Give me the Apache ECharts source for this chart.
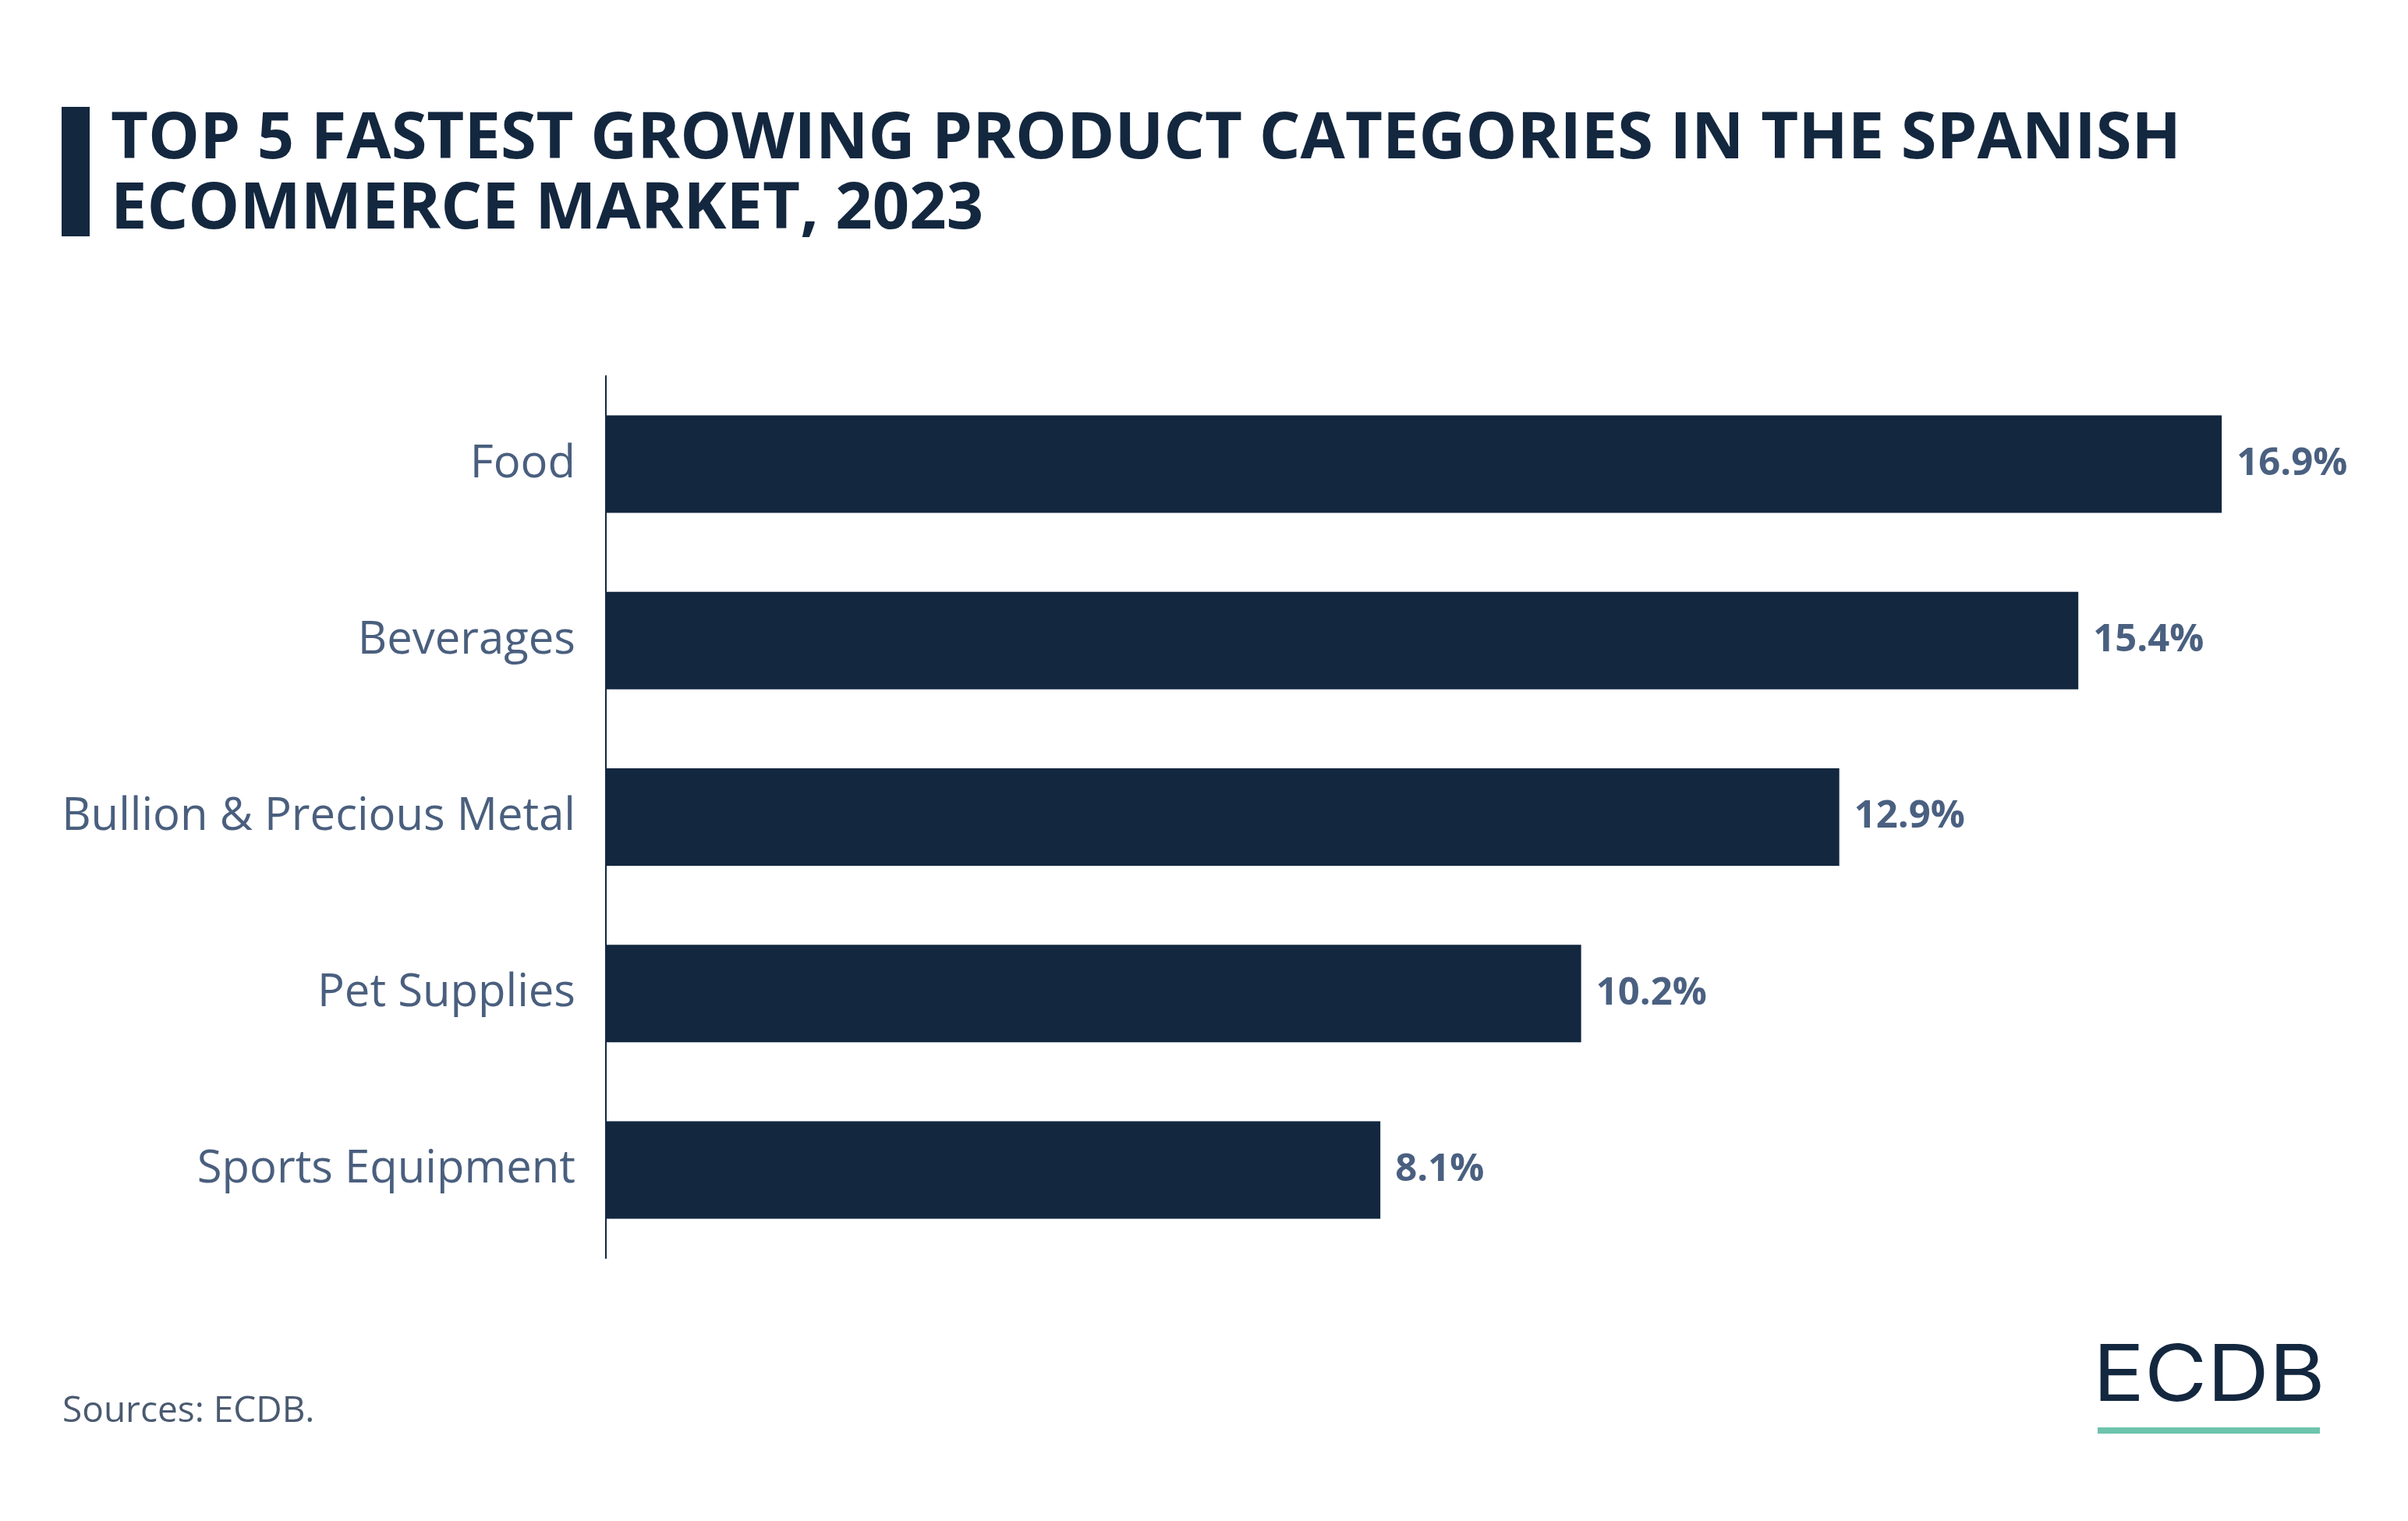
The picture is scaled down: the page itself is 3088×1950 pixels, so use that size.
<!DOCTYPE html>
<html><head><meta charset="utf-8">
<script src="https://cdn.jsdelivr.net/npm/echarts@6/dist/echarts.min.js"></script>
<style>html,body{margin:0;padding:0;background:#fff}#c{width:3088px;height:1950px}</style>
</head><body><div id="c"></div>
<script>
const categories = ["Food", "Beverages", "Bullion & Precious Metal", "Pet Supplies", "Sports Equipment"];
const values = [16.9, 15.4, 12.9, 10.2, 8.1];
const titleLines = ["TOP 5 FASTEST GROWING PRODUCT CATEGORIES IN THE SPANISH", "ECOMMERCE MARKET, 2023"];
const sourceText = "Sources: ECDB.";

const chart = echarts.init(document.getElementById('c'), null, {renderer: 'canvas'});
chart.setOption({
  backgroundColor: '#ffffff',
  animation: false,
  grid: {left: 777, top: 482, height: 1131, right: 104, containLabel: false},
  xAxis: {type: 'value', min: 0, max: 18, show: false},
  yAxis: {
    type: 'category', data: categories, inverse: true,
    axisLine: {show: true, lineStyle: {color: '#13273f', width: 2}},
    axisTick: {show: false},
    axisLabel: {fontFamily: 'Open Sans', fontSize: 58, color: '#4a5f7e', margin: 39}
  },
  series: [{
    type: 'bar', data: values, barWidth: 125,
    itemStyle: {color: '#13273f'},
    label: {show: true, position: 'right', distance: 19, formatter: p => p.value.toFixed(1) + '%',
      fontFamily: 'Open Sans', fontWeight: 'bold', fontSize: 49, color: '#4a6080'}
  }],
  graphic: [
    {type: 'rect', shape: {x: 79, y: 137, width: 36, height: 166}, style: {fill: '#13273f'}},
    {type: 'text', left: 142, top: 134, style: {text: titleLines.join('\n'), fontFamily: 'Open Sans', fontWeight: 'bold', fontSize: 83, lineHeight: 90, fill: '#13273f'}},
    {type: 'text', left: 80, top: 1787, style: {text: sourceText, fontFamily: 'Open Sans', fontSize: 46, fill: '#4a5a70'}},
    {type: 'text', x: 2684, y: 1716, scaleX: 1.1, style: {text: 'ECDB', fontFamily: 'Inter', fontWeight: 400, fontSize: 100, fill: '#13273f'}},
    {type: 'rect', shape: {x: 2690, y: 1830, width: 285, height: 8}, style: {fill: '#6cc4ac'}}
  ]
});
</script></body></html>
